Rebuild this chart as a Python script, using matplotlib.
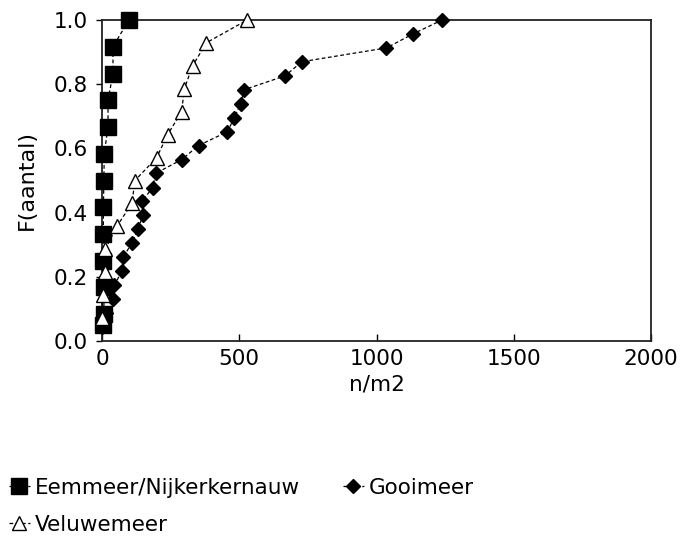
import matplotlib
matplotlib.use("Agg")
import matplotlib.pyplot as plt
import numpy as np

# Data (cumulative fraction vs density)
eem_x = [3, 7, 7, 5, 5, 5, 7, 8, 22, 22, 40, 40, 98]
eem_y = [0.05, 0.083, 0.167, 0.25, 0.333, 0.417, 0.5, 0.583, 0.667, 0.75, 0.833, 0.917, 1.0]

goo_x = [0, 15, 40, 45, 72, 76, 109, 130, 150, 145, 185, 195, 290, 352, 457, 482, 505, 518, 667, 728, 1036, 1134, 1239]
goo_y = [0.043, 0.087, 0.13, 0.174, 0.217, 0.261, 0.304, 0.348, 0.391, 0.435, 0.478, 0.522,
         0.565, 0.609, 0.652, 0.696, 0.739, 0.783, 0.826, 0.87, 0.913, 0.957, 1.0]

vel_x = [0, 2, 11, 12, 54, 109, 120, 199, 239, 290, 300, 330, 380, 529]
vel_y = [0.071, 0.143, 0.214, 0.286, 0.357, 0.429, 0.5, 0.571, 0.643, 0.714, 0.786, 0.857, 0.929, 1.0]

x_ticks = [0, 500, 1000, 1500, 2000]
y_ticks = [0.0, 0.2, 0.4, 0.6, 0.8, 1.0]

plt.rcParams['font.family'] = ['DejaVu Sans']
FS = 15.5

fig = plt.figure(figsize=(6.97, 5.38), dpi=100)
ax = fig.add_axes([102/697, 1-341/538, (651-102)/697, (341-20)/538])

ls = (0, (3, 2))
h_eem, = ax.plot(eem_x, eem_y, linestyle=ls, color='black', linewidth=0.9,
                 marker='s', markersize=11, markerfacecolor='black', markeredgecolor='black',
                 label='Eemmeer/Nijkerkernauw', clip_on=False, zorder=3)
h_goo, = ax.plot(goo_x, goo_y, linestyle=ls, color='black', linewidth=0.9,
                 marker='D', markersize=7, markerfacecolor='black', markeredgecolor='black',
                 label='Gooimeer', clip_on=False, zorder=4)
h_vel, = ax.plot(vel_x, vel_y, linestyle=ls, color='black', linewidth=0.9,
                 marker='^', markersize=10, markerfacecolor='white', markeredgecolor='black',
                 markeredgewidth=1.0, label='Veluwemeer', clip_on=False, zorder=5)

ax.set_xlim(0, 2000)
ax.set_ylim(0, 1.0)
ax.set_xticks(x_ticks)
ax.set_xticklabels([str(v) for v in x_ticks])
ax.set_yticks(y_ticks)
ax.set_yticklabels([f"{v:.1f}" for v in y_ticks])
ax.tick_params(axis='x', direction='in', length=5, width=1, labelsize=FS, pad=6)
ax.tick_params(axis='y', direction='out', length=4, width=1, labelsize=FS, pad=6)
for s in ax.spines.values():
    s.set_linewidth(1.3)
    s.set_color('#222222')

ax.set_xlabel('n/m2', fontsize=FS, labelpad=4)
ax.set_ylabel('F(aantal)', fontsize=16, labelpad=12)

fig.legend(handles=[h_eem, h_vel, h_goo], labels=['Eemmeer/Nijkerkernauw', 'Veluwemeer', 'Gooimeer'],
           ncol=2, loc='upper left', bbox_to_anchor=(0.0, 1-469/538), frameon=False,
           fontsize=FS, handlelength=1.0, handletextpad=0.2, columnspacing=2.0,
           labelspacing=0.8, borderaxespad=0)

fig.savefig('out.png', dpi=100)
